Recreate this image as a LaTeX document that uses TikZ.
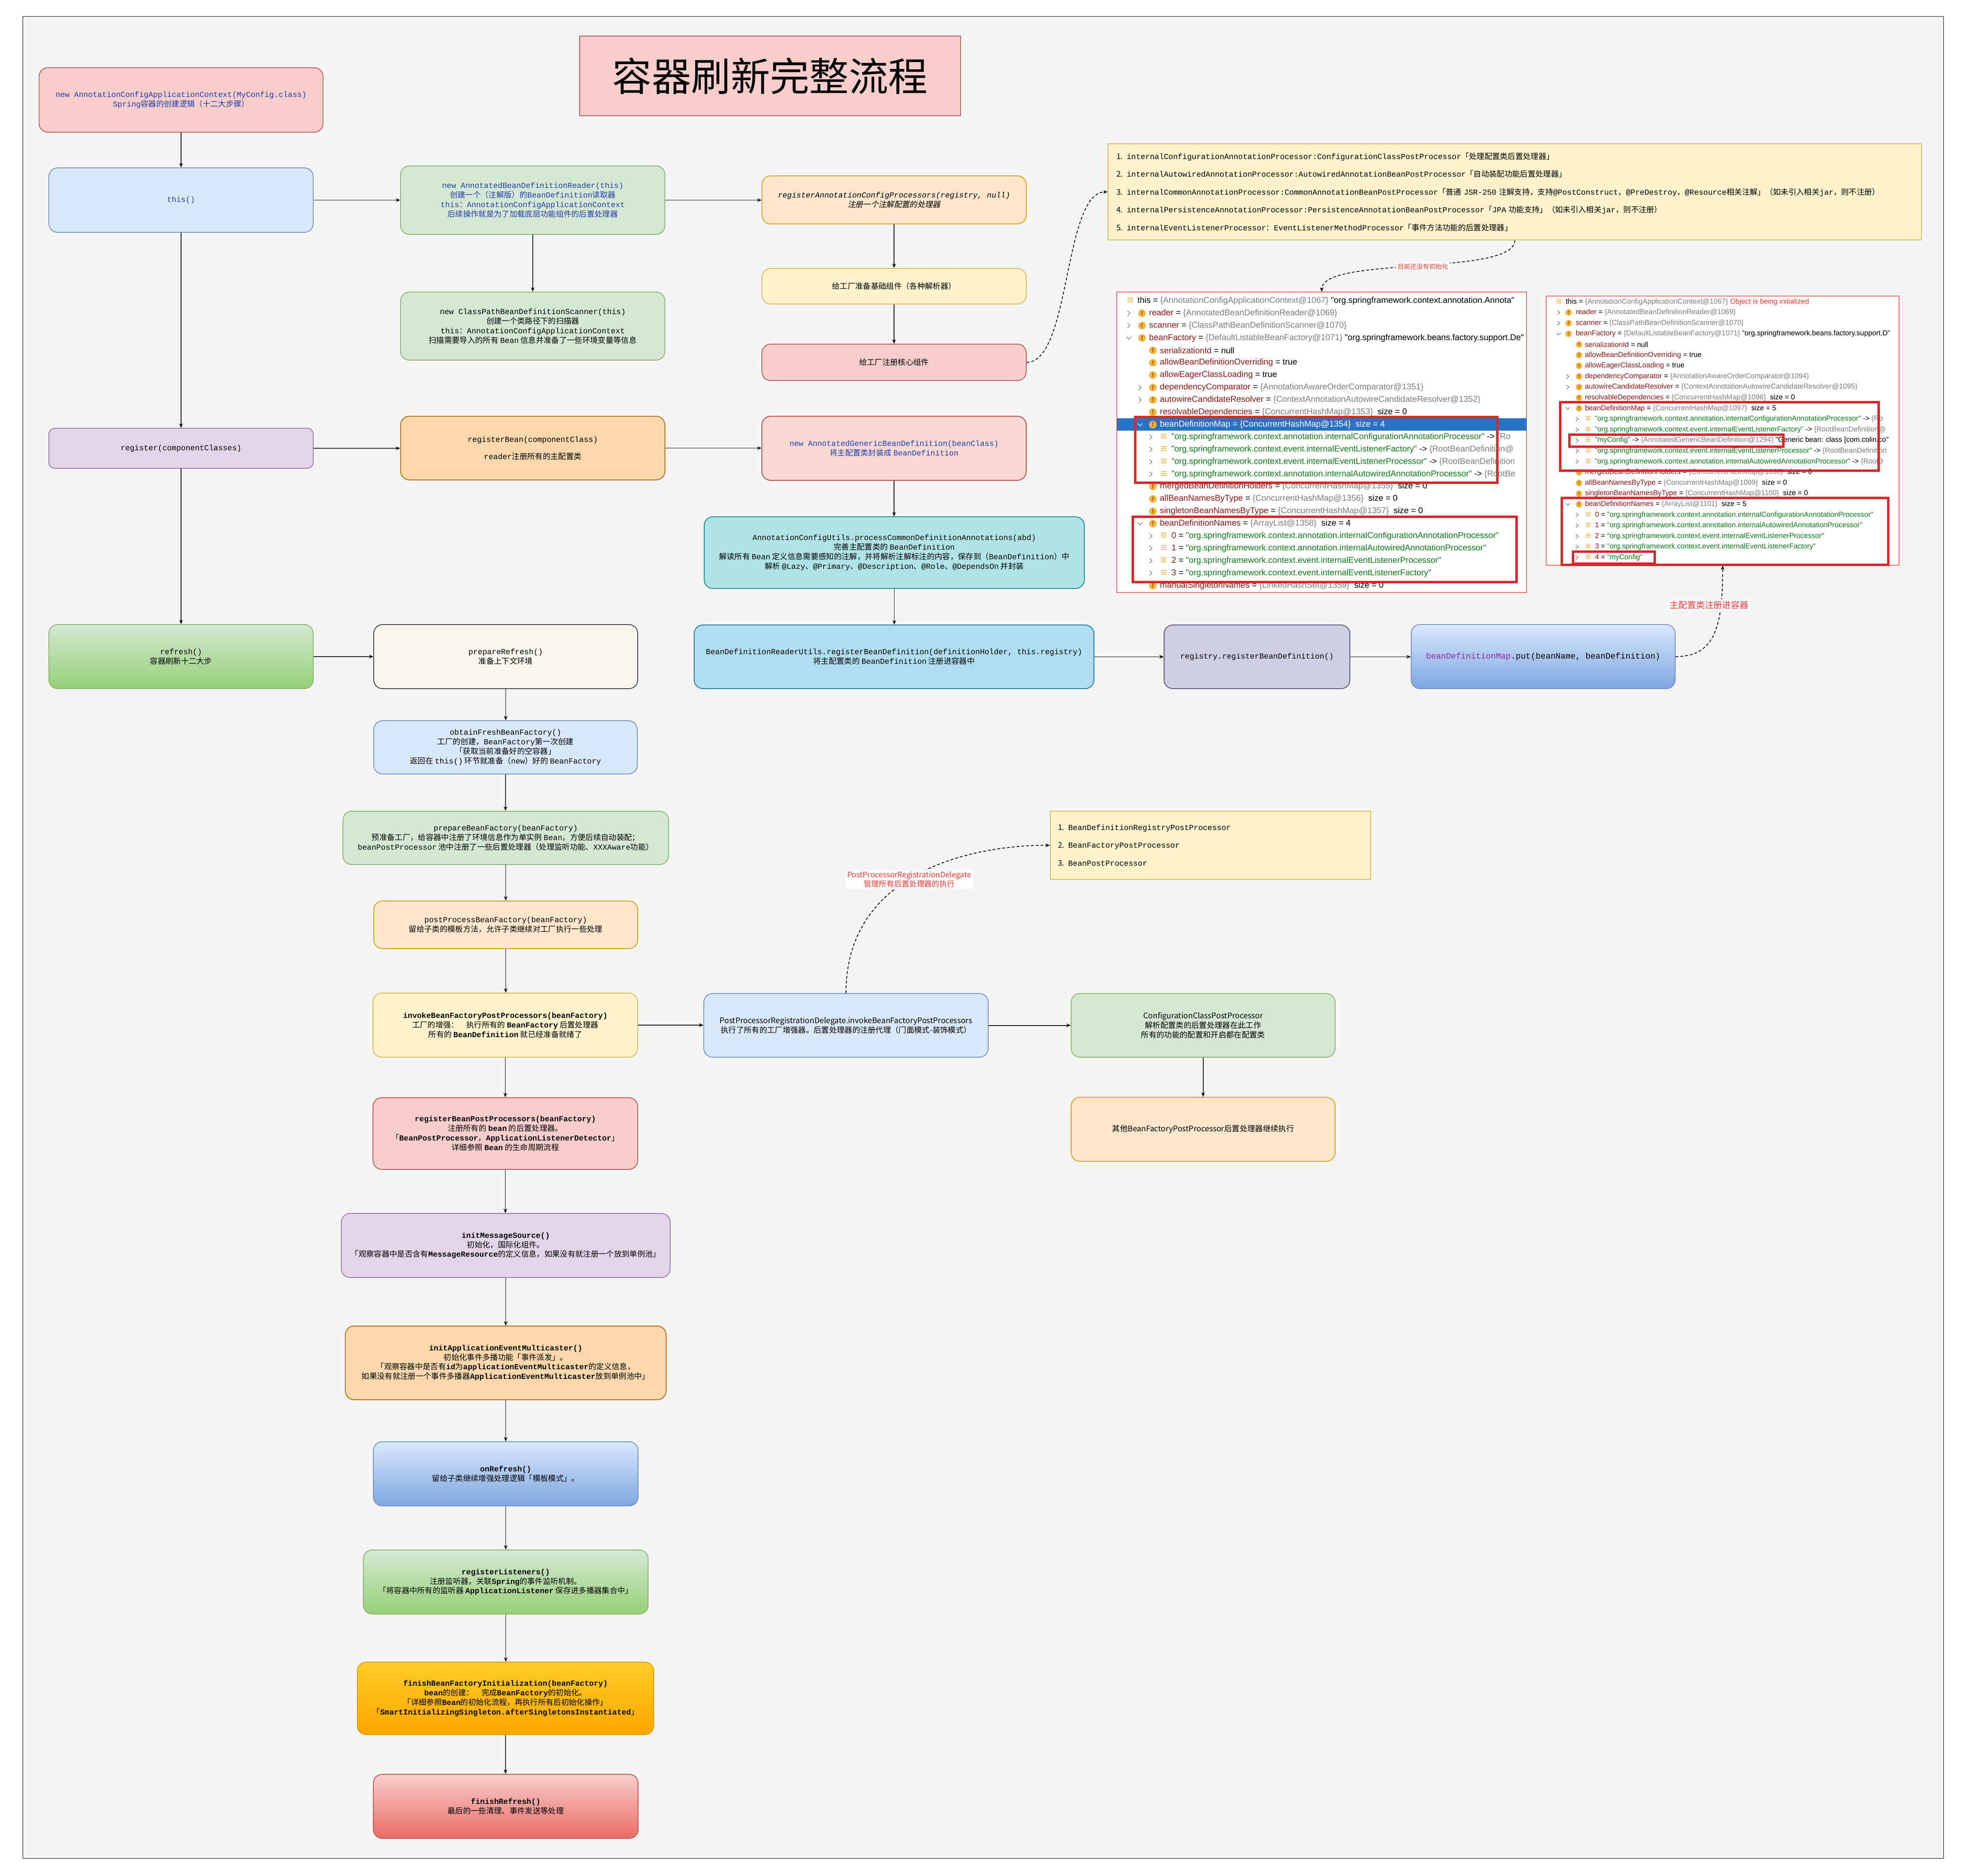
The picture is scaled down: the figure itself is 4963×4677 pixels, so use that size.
\documentclass[tikz,border=0pt]{standalone}
\usepackage{fontspec}
\setmonofont{Liberation Mono}
\setsansfont{Liberation Sans}
\newfontfamily\cjk{Noto Sans CJK SC}
\newfontfamily\cjkslant{Noto Sans CJK SC}[FakeSlant=0.2]
\newfontfamily\dbg{Liberation Sans}
\usetikzlibrary{arrows.meta,positioning}

\definecolor{fRed}{HTML}{F8CECC}
\definecolor{lRed}{HTML}{B85450}
\definecolor{fBlue}{HTML}{DAE8FC}
\definecolor{lBlue}{HTML}{6C8EBF}
\definecolor{fGreen}{HTML}{D5E8D4}
\definecolor{lGreen}{HTML}{82B366}
\definecolor{fYellow}{HTML}{FFF2CC}
\definecolor{lYellow}{HTML}{D6B656}
\definecolor{fPeach}{HTML}{FFE6CC}
\definecolor{lPeach}{HTML}{D79B00}
\definecolor{fOrange}{HTML}{FAD7AC}
\definecolor{lOrange}{HTML}{B46504}
\definecolor{fPurple}{HTML}{E1D5E7}
\definecolor{lPurple}{HTML}{9673A6}
\definecolor{fPink}{HTML}{FAD9D5}
\definecolor{lPink}{HTML}{AE4132}
\definecolor{fCyan}{HTML}{B0E3E6}
\definecolor{lCyan}{HTML}{0E8088}
\definecolor{fSky}{HTML}{B1DDF0}
\definecolor{lSky}{HTML}{10739E}
\definecolor{fLav}{HTML}{D0CEE2}
\definecolor{lLav}{HTML}{56517E}
\definecolor{fCream}{HTML}{F9F7ED}
\definecolor{lCream}{HTML}{36393D}
\definecolor{gBlue}{HTML}{7EA6E0}
\definecolor{gGreen}{HTML}{97D077}
\definecolor{gGoldTop}{HTML}{FFCD28}
\definecolor{gGoldBot}{HTML}{FFA500}
\definecolor{gRed}{HTML}{EA6B66}
\definecolor{bgGray}{HTML}{F5F5F5}
\definecolor{frameGray}{HTML}{666666}
\definecolor{txtBlue}{HTML}{1F3CAA}
\definecolor{tagRed}{HTML}{F03A3A}
\definecolor{mapPurple}{HTML}{8E2A9C}
\definecolor{panelLine}{HTML}{E06666}
\definecolor{frameRed}{HTML}{D9262A}
\definecolor{selBlue}{HTML}{2A73C4}
\definecolor{fieldRed}{HTML}{8E1B1B}
\definecolor{valGray}{HTML}{7F7F7F}
\definecolor{strGreen}{HTML}{127D1E}
\definecolor{iconOrange}{HTML}{F2B441}
\definecolor{iconText}{HTML}{7A4A00}
\definecolor{stripeYellow}{HTML}{E9B949}
\definecolor{chevGray}{HTML}{6E6E6E}

\newcommand\flowfont{\cjk\fontsize{5.5pt}{6.8pt}\selectfont}
\newcommand\notefont{\cjk\fontsize{5.5pt}{12.7pt}\selectfont}
\newcommand\dbgA{\dbg\fontsize{6pt}{7pt}\selectfont}
\newcommand\dbgB{\dbg\fontsize{5.1pt}{6pt}\selectfont}
\newcommand\cd[1]{{\ttfamily #1}}
\newcommand\cdb[1]{{\ttfamily\bfseries #1}}
\newcommand\fld[1]{\textcolor{fieldRed}{#1}}
\newcommand\gry[1]{\textcolor{valGray}{#1}}
\newcommand\strg[1]{\textcolor{strGreen}{#1}}
\newcommand\rowa[1]{751+30.9*#1}
\newcommand\rowb[1]{753.5+26.6*#1}

\tikzset
{
	flow/.style = {rectangle, rounded corners=2.2mm, draw, line width=0.55pt, align=center, inner sep=0pt, font=\flowfont},
	redbox/.style = {flow, fill=fRed, draw=lRed},
	bluebox/.style = {flow, fill=fBlue, draw=lBlue},
	greenbox/.style = {flow, fill=fGreen, draw=lGreen},
	yellowbox/.style = {flow, fill=fYellow, draw=lYellow},
	peachbox/.style = {flow, fill=fPeach, draw=lPeach},
	orangebox/.style = {flow, fill=fOrange, draw=lOrange},
	purplebox/.style = {flow, fill=fPurple, draw=lPurple},
	pinkbox/.style = {flow, fill=fPink, draw=lPink},
	cyanbox/.style = {flow, fill=fCyan, draw=lCyan},
	skybox/.style = {flow, fill=fSky, draw=lSky},
	lavenderbox/.style = {flow, fill=fLav, draw=lLav},
	creambox/.style = {flow, fill=fCream, draw=lCream},
	bluegrad/.style = {flow, top color=fBlue, bottom color=gBlue, draw=lBlue},
	greengrad/.style = {flow, top color=fGreen, bottom color=gGreen, draw=lGreen},
	goldgrad/.style = {flow, top color=gGoldTop, bottom color=gGoldBot, draw=lPeach},
	redgrad/.style = {flow, top color=fRed, bottom color=gRed, draw=lRed},
	titlebox/.style = {rectangle, fill=fRed, draw=lRed, line width=0.55pt, font=\cjk\fontsize{28pt}{32pt}\selectfont},
	notebox/.style = {rectangle, fill=fYellow, draw=lYellow, line width=0.55pt, align=left, inner ysep=0pt, font=\notefont},
	panel/.style = {rectangle, fill=white, draw=panelLine, line width=0.4pt},
	rowA/.style = {anchor=west, inner sep=0pt, font=\dbgA},
	rowB/.style = {anchor=west, inner sep=0pt, font=\dbgB},
	ficonA/.style = {circle, fill=iconOrange, inner sep=0pt, minimum size=1.9mm, text=iconText, font=\dbg\fontsize{4.5pt}{4.5pt}\selectfont},
	ficonB/.style = {ficonA, minimum size=1.6mm, font=\dbg\fontsize{3.8pt}{3.8pt}\selectfont},
	stripeA/.style = {inner sep=0pt, text=stripeYellow, font=\dbg\bfseries\fontsize{8pt}{8pt}\selectfont},
	stripeB/.style = {stripeA, font=\dbg\bfseries\fontsize{7pt}{7pt}\selectfont},
	chev/.style = {draw=chevGray, line width=0.35pt},
	redframe/.style = {draw=frameRed, line width=1.6pt},
	link/.style = {draw=black, line width=0.55pt, -{Stealth[length=1.1mm, width=0.9mm]}},
	hint/.style = {link, dash pattern=on 0.7mm off 0.5mm},
	tag/.style = {fill=white, text=tagRed, inner sep=0.4mm, align=center, font=\cjk\fontsize{5.4pt}{6.6pt}\selectfont},
	framebg/.style = {fill=bgGray, draw=frameGray, line width=0.5pt}
}

\begin{document}
\begin{tikzpicture}[x=0.1mm, y=-0.1mm]
\useasboundingbox (0,0) rectangle (4963,4677);
\fill[white] (0,0) rectangle (4963,4677);
\draw[framebg] (57,41) rectangle (4852,4639);

% title
\node[titlebox, minimum width=95.1mm, minimum height=19.9mm] (title) at (1922.5,189.5) {容器刷新完整流程};

% constructor part
\node[redbox, text=txtBlue, minimum width=70.9mm, minimum height=16.1mm] (ctx) at (452,249.5)
	{\cd{new AnnotationConfigApplicationContext(MyConfig.class)}\\\cd{Spring}容器的创建逻辑（十二大步骤）};
\node[bluebox, text=txtBlue, minimum width=66mm, minimum height=16.1mm] (this) at (452,499.5) {\cd{this()}};
\node[greenbox, text=txtBlue, minimum width=66mm, minimum height=17.1mm] (reader) at (1330,499.5)
	{\cd{new AnnotatedBeanDefinitionReader(this)}\\创建一个（注解版）的\cd{BeanDefinition}读取器\\\cd{this}：\cd{AnnotationConfigApplicationContext}\\后续操作就是为了加载底层功能组件的后置处理器};
\node[greenbox, minimum width=66mm, minimum height=17mm] (scanner) at (1330,814)
	{\cd{new ClassPathBeanDefinitionScanner(this)}\\创建一个类路径下的扫描器\\\cd{this}：\cd{AnnotationConfigApplicationContext}\\扫描需要导入的所有 \cd{Bean} 信息并准备了一些环境变量等信息};
\node[peachbox, minimum width=66mm, minimum height=12mm] (regAnno) at (2232,499)
	{{\ttfamily\itshape registerAnnotationConfigProcessors(registry, null)}\\{\cjkslant 注册一个注解配置的处理器}};
\node[yellowbox, minimum width=66mm, minimum height=8.9mm] (prepBase) at (2232,714.5) {给工厂准备基础组件（各种解析器）};
\node[redbox, minimum width=66mm, minimum height=9.1mm] (regCore) at (2232,904.5) {给工厂注册核心组件};
\node[notebox, minimum width=203.1mm, minimum height=24mm, text width=198.9mm, inner xsep=2.1mm] (list1) at (3781.5,479)
	{1. \cd{internalConfigurationAnnotationProcessor:ConfigurationClassPostProcessor}「处理配置类后置处理器」\\
	2. \cd{internalAutowiredAnnotationProcessor:AutowiredAnnotationBeanPostProcessor}「自动装配功能后置处理器」\\
	3. \cd{internalCommonAnnotationProcessor:CommonAnnotationBeanPostProcessor}「普通 \cd{JSR-250} 注解支持，支持\cd{@PostConstruct}，\cd{@PreDestroy}，\cd{@Resource}相关注解」（如未引入相关\cd{jar}，则不注册）\\
	4. \cd{internalPersistenceAnnotationProcessor:PersistenceAnnotationBeanPostProcessor}「\cd{JPA} 功能支持」（如未引入相关\cd{jar}，则不注册）\\
	5. \cd{internalEventListenerProcessor}：\cd{EventListenerMethodProcessor}「事件方法功能的后置处理器」};

% register part
\node[purplebox, rounded corners=1.5mm, minimum width=66mm, minimum height=10mm] (register) at (452,1119) {\cd{register(componentClasses)}};
\node[orangebox, minimum width=66mm, minimum height=15.9mm] (regBean) at (1330,1118.5)
	{\cd{registerBean(componentClass)}\\[1.9mm]\cd{reader}注册所有的主配置类};
\node[pinkbox, text=txtBlue, minimum width=66mm, minimum height=16mm] (annDef) at (2232,1119)
	{\cd{new AnnotatedGenericBeanDefinition(beanClass)}\\将主配置类封装成 \cd{BeanDefinition}};
\node[cyanbox, minimum width=94.9mm, minimum height=17.9mm] (procCommon) at (2232.5,1379.5)
	{\cd{AnnotationConfigUtils.processCommonDefinitionAnnotations(abd)}\\完善主配置类的 \cd{BeanDefinition}\\解读所有 \cd{Bean} 定义信息需要感知的注解，并将解析注解标注的内容，保存到（\cd{BeanDefinition}）中\\解析 \cd{@Lazy}、\cd{@Primary}、\cd{@Description}、\cd{@Role}、\cd{@DependsOn} 并封装};
\node[skybox, minimum width=99.8mm, minimum height=15.9mm] (bdru) at (2232,1639.5)
	{\cd{BeanDefinitionReaderUtils.registerBeanDefinition(definitionHolder, this.registry)}\\将主配置类的 \cd{BeanDefinition} 注册进容器中};
\node[lavenderbox, minimum width=46.4mm, minimum height=15.9mm] (registry) at (3138,1639.5) {\cd{registry.registerBeanDefinition()}};
\node[bluegrad, minimum width=65.9mm, minimum height=16mm, font=\flowfont\fontsize{5.9pt}{7pt}\selectfont] (mapPut) at (3852.5,1639)
	{\cd{\textcolor{mapPurple}{beanDefinitionMap}.put(beanName, beanDefinition)}};

% refresh part
\node[greengrad, minimum width=66mm, minimum height=16mm] (refresh) at (452,1639) {\cd{refresh()}\\容器刷新十二大步};
\node[creambox, minimum width=65.9mm, minimum height=16mm] (prepRefresh) at (1262.5,1639) {\cd{prepareRefresh()}\\准备上下文环境};
\node[bluebox, minimum width=65.8mm, minimum height=13.3mm] (obtain) at (1262,1865.5)
	{\cd{obtainFreshBeanFactory()}\\工厂的创建，\cd{BeanFactory}第一次创建\\「获取当前准备好的空容器」\\返回在 \cd{this()} 环节就准备（\cd{new}）好的 \cd{BeanFactory}};
\node[greenbox, minimum width=81.3mm, minimum height=13.3mm] (prepBF) at (1262.5,2091.5)
	{\cd{prepareBeanFactory(beanFactory)}\\预准备工厂，给容器中注册了环境信息作为单实例 \cd{Bean}，方便后续自动装配；\\\cd{beanPostProcessor} 池中注册了一些后置处理器（处理监听功能、\cd{XXXAware}功能）};
\node[peachbox, minimum width=65.9mm, minimum height=11.9mm] (postBF) at (1262.5,2308.5)
	{\cd{postProcessBeanFactory(beanFactory)}\\留给子类的模板方法，允许子类继续对工厂执行一些处理};
\node[yellowbox, minimum width=66.1mm, minimum height=16mm] (invokeBF) at (1261.5,2559)
	{\cdb{invokeBeanFactoryPostProcessors(beanFactory)}\\工厂的增强：\quad 执行所有的 \cdb{BeanFactory} 后置处理器\\所有的 \cdb{BeanDefinition} 就已经准备就绪了};
\node[bluebox, minimum width=71mm, minimum height=15.9mm] (delegate) at (2112,2559.5)
	{PostProcessorRegistrationDelegate.invokeBeanFactoryPostProcessors\\执行了所有的工厂增强器。后置处理器的注册代理（门面模式-装饰模式）};
\node[greenbox, minimum width=65.9mm, minimum height=15.9mm] (configPP) at (3003.5,2559.5)
	{ConfigurationClassPostProcessor\\解析配置类的后置处理器在此工作\\所有的功能的配置和开启都在配置类};
\node[peachbox, minimum width=65.9mm, minimum height=16mm] (otherPP) at (3003.5,2819) {其他BeanFactoryPostProcessor后置处理器继续执行};
\node[notebox, minimum width=80mm, minimum height=17mm, text width=76.2mm, inner xsep=1.9mm] (list2) at (3022,2110)
	{1. \cd{BeanDefinitionRegistryPostProcessor}\\2. \cd{BeanFactoryPostProcessor}\\3. \cd{BeanPostProcessor}};
\node[redbox, minimum width=66.1mm, minimum height=17.9mm] (regBPP) at (1261.5,2829.5)
	{\cdb{registerBeanPostProcessors(beanFactory)}\\注册所有的 \cdb{bean} 的后置处理器。\\「\cdb{BeanPostProcessor}，\cdb{ApplicationListenerDetector}」\\详细参照 \cdb{Bean} 的生命周期流程};
\node[purplebox, minimum width=82.1mm, minimum height=16mm] (initMS) at (1262.5,3109)
	{\cdb{initMessageSource()}\\初始化，国际化组件。\\「观察容器中是否含有\cdb{MessageResource}的定义信息，如果没有就注册一个放到单例池」};
\node[orangebox, minimum width=80.1mm, minimum height=18.4mm] (initAEM) at (1262.5,3402)
	{\cdb{initApplicationEventMulticaster()}\\初始化事件多播功能「事件派发」。\\「观察容器中是否有\cdb{id}为\cdb{applicationEventMulticaster}的定义信息，\\如果没有就注册一个事件多播器\cdb{ApplicationEventMulticaster}放到单例池中」};
\node[bluegrad, minimum width=66.1mm, minimum height=16mm] (onRefresh) at (1262.5,3679)
	{\cdb{onRefresh()}\\留给子类继续增强处理逻辑「模板模式」。};
\node[greengrad, minimum width=71.1mm, minimum height=16mm] (regListen) at (1262.5,3949)
	{\cdb{registerListeners()}\\注册监听器，关联\cdb{Spring}的事件监听机制。\\「将容器中所有的监听器 \cdb{ApplicationListener} 保存进多播器集合中」};
\node[goldgrad, minimum width=74mm, minimum height=18.1mm] (finishBF) at (1262,4239.5)
	{\cdb{finishBeanFactoryInitialization(beanFactory)}\\\cdb{bean}的创建：\quad 完成\cdb{BeanFactory}的初始化。\\「详细参照\cdb{Bean}的初始化流程，再执行所有后初始化操作」\\「\cdb{SmartInitializingSingleton.afterSingletonsInstantiated}」};
\node[redgrad, minimum width=66.1mm, minimum height=16mm] (finishRef) at (1262.5,4509)
	{\cdb{finishRefresh()}\\最后的一些清理、事件发送等处理};

% debugger panel before register
\node[panel, minimum width=102.3mm, minimum height=75mm] (dbgA) at (3299.5,1104) {};
\begin{scope}
\clip (dbgA.south west) rectangle (dbgA.north east);
\fill[selBlue] (2788,1044) rectangle (3811,1075);
\node[rowA] (a0) at (2839,\rowa{0}) {this = \gry{\{AnnotationConfigApplicationContext@1067\}} "org.springframework.context.annotation.Annota"};
\node[rowA] (a1) at (2868,\rowa{1}) {\fld{reader} = \gry{\{AnnotatedBeanDefinitionReader@1069\}}};
\node[rowA] (a2) at (2868,\rowa{2}) {\fld{scanner} = \gry{\{ClassPathBeanDefinitionScanner@1070\}}};
\node[rowA] (a3) at (2868,\rowa{3}) {\fld{beanFactory} = \gry{\{DefaultListableBeanFactory@1071\}} "org.springframework.beans.factory.support.De"};
\node[rowA] (a4) at (2895,\rowa{4}) {\fld{serializationId} = null};
\node[rowA] (a5) at (2895,\rowa{5}) {\fld{allowBeanDefinitionOverriding} = true};
\node[rowA] (a6) at (2895,\rowa{6}) {\fld{allowEagerClassLoading} = true};
\node[rowA] (a7) at (2895,\rowa{7}) {\fld{dependencyComparator} = \gry{\{AnnotationAwareOrderComparator@1351\}}};
\node[rowA] (a8) at (2895,\rowa{8}) {\fld{autowireCandidateResolver} = \gry{\{ContextAnnotationAutowireCandidateResolver@1352\}}};
\node[rowA] (a9) at (2895,\rowa{9}) {\fld{resolvableDependencies} = \gry{\{ConcurrentHashMap@1353\}}\ \ size = 0};
\node[rowA, text=white] (a10) at (2895,\rowa{10}) {beanDefinitionMap = \{ConcurrentHashMap@1354\}\ \ size = 4};
\node[rowA] (a11) at (2924,\rowa{11}) {\strg{"org.springframework.context.annotation.internalConfigurationAnnotationProcessor"} -> \gry{\{Ro}};
\node[rowA] (a12) at (2924,\rowa{12}) {\strg{"org.springframework.context.event.internalEventListenerFactory"} -> \gry{\{RootBeanDefinition@}};
\node[rowA] (a13) at (2924,\rowa{13}) {\strg{"org.springframework.context.event.internalEventListenerProcessor"} -> \gry{\{RootBeanDefinition}};
\node[rowA] (a14) at (2924,\rowa{14}) {\strg{"org.springframework.context.annotation.internalAutowiredAnnotationProcessor"} -> \gry{\{RootBe}};
\node[rowA] (a15) at (2895,\rowa{15}) {\fld{mergedBeanDefinitionHolders} = \gry{\{ConcurrentHashMap@1355\}}\ \ size = 0};
\node[rowA] (a16) at (2895,\rowa{16}) {\fld{allBeanNamesByType} = \gry{\{ConcurrentHashMap@1356\}}\ \ size = 0};
\node[rowA] (a17) at (2895,\rowa{17}) {\fld{singletonBeanNamesByType} = \gry{\{ConcurrentHashMap@1357\}}\ \ size = 0};
\node[rowA] (a18) at (2895,\rowa{18}) {\fld{beanDefinitionNames} = \gry{\{ArrayList@1358\}}\ \ size = 4};
\node[rowA] (a19) at (2924,\rowa{19}) {\fld{0} = \strg{"org.springframework.context.annotation.internalConfigurationAnnotationProcessor"}};
\node[rowA] (a20) at (2924,\rowa{20}) {\fld{1} = \strg{"org.springframework.context.annotation.internalAutowiredAnnotationProcessor"}};
\node[rowA] (a21) at (2924,\rowa{21}) {\fld{2} = \strg{"org.springframework.context.event.internalEventListenerProcessor"}};
\node[rowA] (a22) at (2924,\rowa{22}) {\fld{3} = \strg{"org.springframework.context.event.internalEventListenerFactory"}};
\node[rowA] (a23) at (2895,\rowa{23}) {\fld{manualSingletonNames} = \gry{\{LinkedHashSet@1359\}}\ \ size = 0};
\node[stripeA] (sa0) at (2822,\rowa{0}) {≡};
\foreach \r in {1,2,3} \node[ficonA] (fa\r) at (2851,\rowa{\r}) {f};
\foreach \r in {4,5,6,7,8,9,10,15,16,17,18,23} \node[ficonA] (fa\r) at (2878,\rowa{\r}) {f};
\foreach \r in {11,12,13,14,19,20,21,22} \node[stripeA] (sa\r) at (2905,\rowa{\r}) {≡};
\foreach \x/\r in {2818/1,2818/2,2846/7,2846/8,2873/11,2873/12,2873/13,2873/14,2873/19,2873/20,2873/21,2873/22}
	\draw[chev] (\x-3,\rowa{\r}-6) -- (\x+3,\rowa{\r}) -- (\x-3,\rowa{\r}+6);
\foreach \x/\r in {2818/3,2846/18}
	\draw[chev] (\x-6,\rowa{\r}-3) -- (\x,\rowa{\r}+3) -- (\x+6,\rowa{\r}-3);
\draw[chev, draw=white] (2840,\rowa{10}-3) -- (2846,\rowa{10}+3) -- (2852,\rowa{10}-3);
\end{scope}
\draw[redframe] (2834,1041) rectangle (3738,1205);
\draw[redframe] (2828,1290) rectangle (3786,1453);

% debugger panel after register
\node[panel, minimum width=88.1mm, minimum height=67.2mm] (dbgB) at (4300.5,1075) {};
\begin{scope}
\clip (dbgB.south west) rectangle (dbgB.north east);
\node[rowB] (b0) at (3908,\rowb{0}) {this = \gry{\{AnnotationConfigApplicationContext@1067\}} \textcolor{tagRed}{Object is being initialized}};
\node[rowB] (b1) at (3933,\rowb{1}) {\fld{reader} = \gry{\{AnnotatedBeanDefinitionReader@1069\}}};
\node[rowB] (b2) at (3933,\rowb{2}) {\fld{scanner} = \gry{\{ClassPathBeanDefinitionScanner@1070\}}};
\node[rowB] (b3) at (3933,\rowb{3}) {\fld{beanFactory} = \gry{\{DefaultListableBeanFactory@1071\}} "org.springframework.beans.factory.support.D"};
\node[rowB] (b4) at (3956,\rowb{4}) {\fld{serializationId} = null};
\node[rowB] (b5) at (3956,\rowb{5}) {\fld{allowBeanDefinitionOverriding} = true};
\node[rowB] (b6) at (3956,\rowb{6}) {\fld{allowEagerClassLoading} = true};
\node[rowB] (b7) at (3956,\rowb{7}) {\fld{dependencyComparator} = \gry{\{AnnotationAwareOrderComparator@1094\}}};
\node[rowB] (b8) at (3956,\rowb{8}) {\fld{autowireCandidateResolver} = \gry{\{ContextAnnotationAutowireCandidateResolver@1095\}}};
\node[rowB] (b9) at (3956,\rowb{9}) {\fld{resolvableDependencies} = \gry{\{ConcurrentHashMap@1096\}}\ \ size = 0};
\node[rowB] (b10) at (3956,\rowb{10}) {\fld{beanDefinitionMap} = \gry{\{ConcurrentHashMap@1097\}}\ \ size = 5};
\node[rowB] (b11) at (3981,\rowb{11}) {\strg{"org.springframework.context.annotation.internalConfigurationAnnotationProcessor"} -> \gry{\{Ro}};
\node[rowB] (b12) at (3981,\rowb{12}) {\strg{"org.springframework.context.event.internalEventListenerFactory"} -> \gry{\{RootBeanDefinition@}};
\node[rowB] (b13) at (3981,\rowb{13}) {\strg{"myConfig"} -> \gry{\{AnnotatedGenericBeanDefinition@1294\}} "Generic bean: class [com.colin.co"};
\node[rowB] (b14) at (3981,\rowb{14}) {\strg{"org.springframework.context.event.internalEventListenerProcessor"} -> \gry{\{RootBeanDefinition}};
\node[rowB] (b15) at (3981,\rowb{15}) {\strg{"org.springframework.context.annotation.internalAutowiredAnnotationProcessor"} -> \gry{\{RootB}};
\node[rowB] (b16) at (3956,\rowb{16}) {\fld{mergedBeanDefinitionHolders} = \gry{\{ConcurrentHashMap@1098\}}\ \ size = 0};
\node[rowB] (b17) at (3956,\rowb{17}) {\fld{allBeanNamesByType} = \gry{\{ConcurrentHashMap@1099\}}\ \ size = 0};
\node[rowB] (b18) at (3956,\rowb{18}) {\fld{singletonBeanNamesByType} = \gry{\{ConcurrentHashMap@1100\}}\ \ size = 0};
\node[rowB] (b19) at (3956,\rowb{19}) {\fld{beanDefinitionNames} = \gry{\{ArrayList@1101\}}\ \ size = 5};
\node[rowB] (b20) at (3981,\rowb{20}) {\fld{0} = \strg{"org.springframework.context.annotation.internalConfigurationAnnotationProcessor"}};
\node[rowB] (b21) at (3981,\rowb{21}) {\fld{1} = \strg{"org.springframework.context.annotation.internalAutowiredAnnotationProcessor"}};
\node[rowB] (b22) at (3981,\rowb{22}) {\fld{2} = \strg{"org.springframework.context.event.internalEventListenerProcessor"}};
\node[rowB] (b23) at (3981,\rowb{23}) {\fld{3} = \strg{"org.springframework.context.event.internalEventListenerFactory"}};
\node[rowB] (b24) at (3981,\rowb{24}) {\fld{4} = \strg{"myConfig"}};
\node[stripeB] (sb0) at (3892,\rowb{0}) {≡};
\foreach \r in {1,2,3} \node[ficonB] (fb\r) at (3916,\rowb{\r}) {f};
\foreach \r in {4,5,6,7,8,9,10,16,17,18,19} \node[ficonB] (fb\r) at (3942,\rowb{\r}) {f};
\foreach \r in {11,12,13,14,15,20,21,22,23,24} \node[stripeB] (sb\r) at (3965,\rowb{\r}) {≡};
\foreach \x/\r in {3891/1,3891/2,3914/7,3914/8,3937/11,3937/12,3937/13,3937/14,3937/15,3937/20,3937/21,3937/22,3937/23,3937/24}
	\draw[chev] (\x-3,\rowb{\r}-5) -- (\x+3,\rowb{\r}) -- (\x-3,\rowb{\r}+5);
\foreach \x/\r in {3891/3,3914/10,3914/19}
	\draw[chev] (\x-5,\rowb{\r}-3) -- (\x,\rowb{\r}+3) -- (\x+5,\rowb{\r}-3);
\end{scope}
\draw[redframe] (3895,1004) rectangle (4690,1175);
\draw[redframe] (3918,1085) rectangle (4452,1115);
\draw[redframe] (3899,1243) rectangle (4714,1410);
\draw[redframe] (3927,1377) rectangle (4131,1407);

% solid connectors
\draw[link] (ctx.south) -- (ctx.south |- this.north);
\draw[link] (this.east) -- (this.east -| reader.west);
\draw[link] (reader.east) -- (reader.east -| regAnno.west);
\draw[link] (reader.south) -- (reader.south |- scanner.north);
\draw[link] (regAnno.south) -- (regAnno.south |- prepBase.north);
\draw[link] (prepBase.south) -- (prepBase.south |- regCore.north);
\draw[link] (this.south) -- (this.south |- register.north);
\draw[link] (register.east) -- (register.east -| regBean.west);
\draw[link] (regBean.east) -- (regBean.east -| annDef.west);
\draw[link] (annDef.south) -- (annDef.south |- procCommon.north);
\draw[link] (procCommon.south) -- (procCommon.south |- bdru.north);
\draw[link] (bdru.east) -- (bdru.east -| registry.west);
\draw[link] (registry.east) -- (registry.east -| mapPut.west);
\draw[link] (register.south) -- (register.south |- refresh.north);
\draw[link] (refresh.east) -- (refresh.east -| prepRefresh.west);
\draw[link] (prepRefresh.south) -- (prepRefresh.south |- obtain.north);
\draw[link] (obtain.south) -- (obtain.south |- prepBF.north);
\draw[link] (prepBF.south) -- (prepBF.south |- postBF.north);
\draw[link] (postBF.south) -- (postBF.south |- invokeBF.north);
\draw[link] (invokeBF.east) -- (invokeBF.east -| delegate.west);
\draw[link] (delegate.east) -- (delegate.east -| configPP.west);
\draw[link] (configPP.south) -- (configPP.south |- otherPP.north);
\draw[link] (invokeBF.south) -- (invokeBF.south |- regBPP.north);
\draw[link] (regBPP.south) -- (regBPP.south |- initMS.north);
\draw[link] (initMS.south) -- (initMS.south |- initAEM.north);
\draw[link] (initAEM.south) -- (initAEM.south |- onRefresh.north);
\draw[link] (onRefresh.south) -- (onRefresh.south |- regListen.north);
\draw[link] (regListen.south) -- (regListen.south |- finishBF.north);
\draw[link] (finishBF.south) -- (finishBF.south |- finishRef.north);

% dashed hints
\draw[hint] (regCore.east) .. controls +(110,0) and +(-110,0) .. (list1.west);
\draw[hint] (list1.south) .. controls +(0,90) and +(0,-90) .. (dbgA.north);
\draw[hint] (mapPut.east) .. controls +(100,0) and +(0,150) .. (dbgB.south);
\draw[hint] (delegate.north) .. controls +(0,-300) and +(-200,0) .. (list2.west);
\node[tag, font=\cjk\fontsize{4.5pt}{5.5pt}\selectfont] (tagInit) at (3552,665) {目前还没有初始化};
\node[tag, font=\cjk\fontsize{6.2pt}{7.5pt}\selectfont] (tagMain) at (4267,1510) {主配置类注册进容器};
\node[tag] (tagDelegate) at (2270,2195) {PostProcessorRegistrationDelegate\\管理所有后置处理器的执行};
\end{tikzpicture}
\end{document}
